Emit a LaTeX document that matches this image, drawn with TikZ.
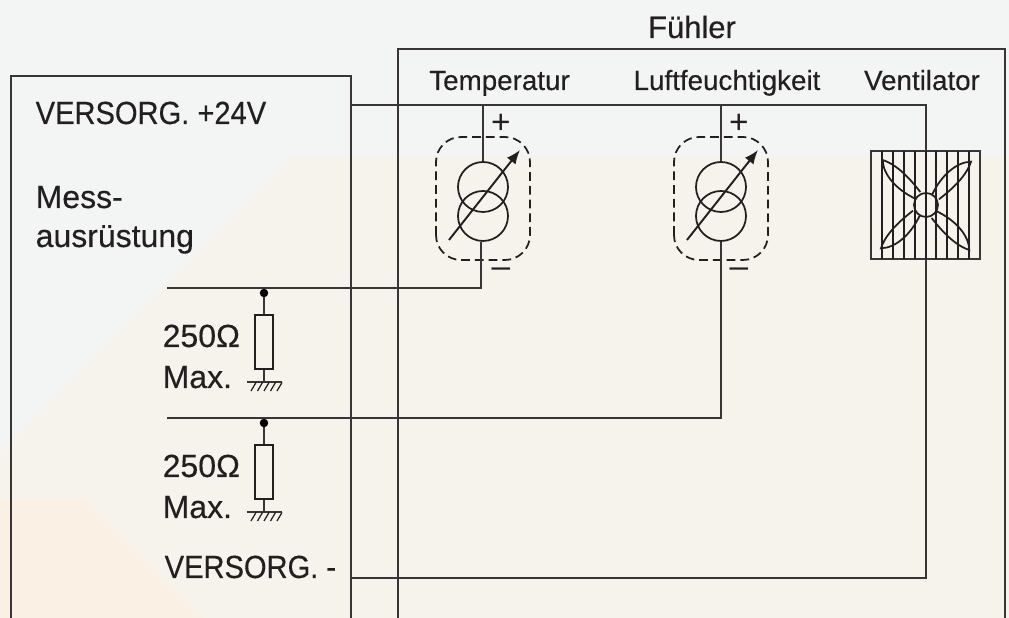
\documentclass[tikz,border=0pt]{standalone}
\usepackage{fontspec}
\setmainfont{Liberation Sans}[FakeBold=0.35]
\newfontfamily\versfont{Liberation Sans}[FakeBold=0.35,FakeStretch=0.91]
\newfontfamily\signfont{Liberation Sans}
\usetikzlibrary{calc,positioning,arrows.meta}
\definecolor{bgblue}{HTML}{F3F5F4}
\definecolor{bgbeige}{HTML}{F6F3EC}
\definecolor{bgorange}{HTML}{FAF1E4}
\definecolor{ink}{HTML}{231F20}
\tikzset{
  wire/.style = {draw=ink!90!white, line width=0.45pt},
  lbl/.style = {anchor=base west, inner sep=0pt, text=ink, font=\fontsize{9.1pt}{10pt}\selectfont},
  vers/.style = {lbl, font=\fontsize{9.1pt}{10pt}\versfont},
  small/.style = {anchor=base, inner sep=0pt, text=ink, font=\fontsize{7.9pt}{9pt}\selectfont},
  sign/.style = {anchor=center, inner sep=0pt, text=ink, font=\fontsize{9.5pt}{9pt}\signfont},
  coil/.style = {circle, draw=ink, line width=0.5pt, minimum size=0.5cm, inner sep=0pt},
  res/.style = {rectangle, draw=ink, line width=0.45pt, minimum width=0.18cm, minimum height=0.54cm, inner sep=0pt},
  dot/.style = {circle, fill=black, minimum size=0.085cm, inner sep=0pt, outer sep=0pt},
}
\begin{document}
\begin{tikzpicture}
\useasboundingbox (0,0) rectangle (10.09,6.18);
\clip (0,0) rectangle (10.09,6.18);
\fill[bgblue] (0,0) rectangle (10.09,6.18);
\fill[bgbeige] (0,1.66) -- (2.9,4.62) -- (10.09,4.62) -- (10.09,0) -- (0,0) -- cycle;
\fill[bgorange] (0,1.17) -- (0.85,1.17) -- (2.02,0) -- (0,0) -- cycle;
% boxes
\draw[wire] (0.11,0) -- (0.11,5.42) -- (3.51,5.42) -- (3.51,0);
\draw[wire] (3.98,0) -- (3.98,5.69) -- (10.05,5.69) -- (10.05,0);
\node[small, font=\fontsize{8.8pt}{10pt}\selectfont] (fuehler) at (6.92,5.8) {Fühler};
\node[small] (ltemp) at (4.995,5.28) {Temperatur};
\node[small] (lfeucht) at (7.27,5.28) {Luftfeuchtigkeit};
\node[small] (lvent) at (9.22,5.28) {Ventilator};
\node[vers] (vplus) at (0.35,4.94) {VERSORG. +24V};
\node[lbl] (mess) at (0.35,4.1) {Mess-};
\node[lbl] (ausr) at (0.35,3.71) {ausrüstung};
\node[vers] (vminus) at (1.64,0.4) {VERSORG. -};
\coordinate (splus) at (3.51,5.13);
\coordinate (sminus) at (3.51,0.4);
\coordinate (corner) at (9.26,5.13);
\coordinate (sig1) at (1.67,3.3);
\coordinate (sig2) at (1.67,2);
% sensors
\foreach \n/\x in {temp/4.83,feucht/7.21}{
  \node[coil] (\n top) at (\x,4.31) {};
  \node[coil] (\n bot) at (\x,4.02) {};
  \draw[draw=ink, line width=0.5pt, dash pattern=on 2.5pt off 1.4pt, rounded corners=0.25cm] (\x-0.47,3.58) rectangle (\x+0.47,4.81);
  \draw[draw=ink, line width=0.55pt, -{Latex[length=0.14cm,width=0.11cm]}] (\x-0.34,3.78) -- (\x+0.37,4.68);
  \draw[wire, line width=0.55pt] (\n top.north) -- (\n top.north |- splus);
  \node[sign] (\n plus) at (\x+0.18,4.94) {+};
  \node[sign] (\n minus) at (\x+0.18,3.45) {–};
}
\draw[wire] (splus) -- (corner) -- (corner |- sminus) -- (sminus);
\draw[wire] (sig1) -| ([xshift=-0.02cm]tempbot.south);
\draw[wire] (sig2) -| (feuchtbot.south);
% resistors
\foreach \n/\y in {a/3.3,b/2}{
  \node[dot] (dot\n) at (2.64,\y-0.05) {};
  \node[res] (res\n) at (2.64,\y-0.54) {};
  \coordinate (gnd\n) at (2.64,\y-0.94);
  \draw[wire] (dot\n) -- (res\n);
  \draw[wire] (res\n) -- (gnd\n);
  \draw[wire] ($(gnd\n)+(-0.17,0)$) -- ($(gnd\n)+(0.18,0)$);
  \foreach \k in {0,1,2,3,4}
    \draw[ink, line width=0.35pt] ($(gnd\n)+(-0.08+\k*0.065,-0.005)$) --++ (-0.05,-0.085);
  \node[lbl] (ohm\n) at (1.62,\y-0.59) {250Ω};
  \node[lbl] (max\n) at (1.62,\y-1) {Max.};
}
% fan
\node[rectangle, draw=ink!90!white, line width=0.55pt, minimum width=1.09cm, minimum height=1.08cm, inner sep=0pt] (fan) at (9.255,4.13) {};
\foreach \x in {8.82,8.93,9.04,9.15,9.26,9.36,9.47,9.58,9.69}
  \draw[ink, line width=0.55pt] (\x,3.59) -- (\x,4.67);
\node[coil] (hub) [minimum size=0.24cm] at (9.26,4.13) {};
\foreach \a in {0,90,180,270}{
  \draw[ink, line width=0.5pt, shift={(9.26,4.13)}, rotate=\a]
    (-0.057,0.13) .. controls (-0.15,0.25) and (-0.28,0.4) .. (-0.433,0.45)
    .. controls (-0.43,0.3) and (-0.29,0.15) .. (-0.107,0.063);
}
\end{tikzpicture}
\end{document}
